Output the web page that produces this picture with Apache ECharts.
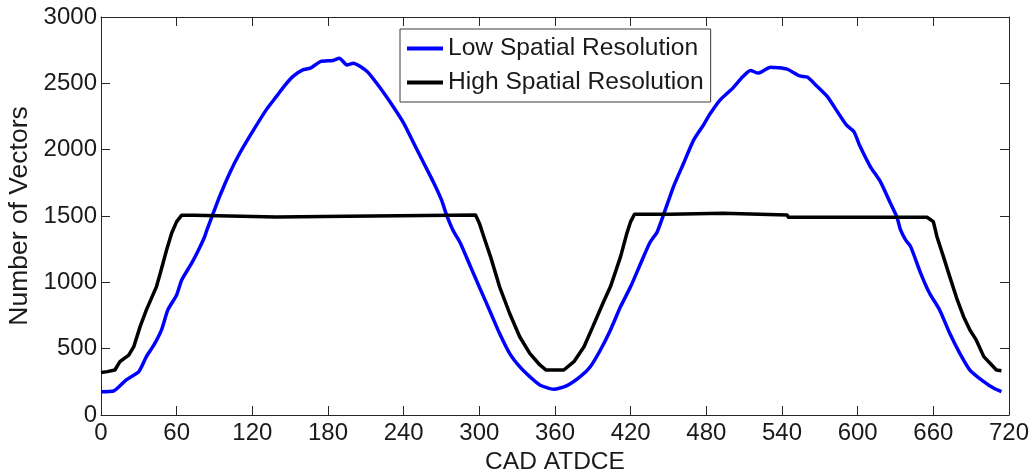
<!DOCTYPE html>
<html>
<head>
<meta charset="utf-8">
<script src="https://cdn.jsdelivr.net/npm/echarts@6/dist/echarts.min.js"></script>
<style>
  html, body { margin: 0; padding: 0; background: #fff; }
  #chart { width: 1034px; height: 475px; }
</style>
</head>
<body>
<div id="chart"></div>
<script>
// Crank angle (CAD ATDCE) and vector counts for each resolution
const lowX = [0, 10, 20, 30, 36, 42, 48, 53, 60, 64, 72, 78, 82, 84, 89, 94, 102, 110, 121, 131, 139, 145, 152, 160, 166, 174, 184, 189, 195, 200, 211, 221, 232, 240, 248, 256, 264, 270, 274, 279, 285, 293, 301, 308, 316, 324, 332, 340, 348, 359, 369, 380, 388, 396, 404, 412, 420, 428, 435, 441, 446, 454, 462, 470, 478, 483, 491, 501, 509, 515, 521, 531, 544, 554, 560, 568, 576, 583, 591, 597, 602, 610, 618, 626, 631, 634, 638, 642, 650, 657, 665, 673, 681, 689, 700, 708, 714];
const lowY = [176, 181, 264, 327, 440, 528, 641, 792, 905, 1018, 1146, 1257, 1340, 1395, 1521, 1646, 1823, 1973, 2149, 2300, 2400, 2476, 2551, 2602, 2614, 2664, 2672, 2690, 2639, 2652, 2589, 2470, 2320, 2200, 2049, 1898, 1747, 1621, 1508, 1395, 1295, 1118, 943, 792, 616, 465, 364, 289, 226, 194, 219, 289, 364, 490, 641, 817, 968, 1144, 1295, 1380, 1508, 1722, 1898, 2074, 2190, 2270, 2375, 2464, 2551, 2597, 2577, 2622, 2607, 2556, 2547, 2476, 2400, 2300, 2187, 2136, 2023, 1873, 1759, 1596, 1495, 1395, 1320, 1269, 1068, 918, 792, 616, 465, 339, 251, 201, 176];

const highX = [0, 5, 11, 15, 22, 26, 31, 36, 44, 47, 52, 56, 60, 64, 74, 75, 139, 140, 195, 196, 297, 300, 304, 309, 316, 324, 332, 340, 348, 353, 367, 375, 383, 390, 398, 404, 412, 417, 420, 423, 451, 452, 493, 494, 544, 545, 655, 660, 663, 668, 673, 679, 684, 689, 694, 700, 705, 710, 714];
const highY = [320, 327, 339, 402, 452, 515, 666, 792, 968, 1068, 1244, 1370, 1458, 1506, 1506, 1493, 1493, 1498, 1498, 1508, 1508, 1446, 1330, 1190, 968, 767, 590, 465, 377, 339, 339, 402, 515, 666, 842, 968, 1194, 1370, 1458, 1513, 1513, 1520, 1520, 1508, 1508, 1491, 1491, 1458, 1340, 1194, 1043, 867, 741, 641, 566, 440, 390, 339, 334];

const xTicks = { min: 0, max: 720, step: 60 };
const yTicks = { min: 0, max: 3000, step: 500 };

const seriesNames = ['Low Spatial Resolution', 'High Spatial Resolution'];

const pairs = (xs, ys) => xs.map((x, i) => [x, ys[i]]);

const FONT = '"Liberation Sans", Arial, sans-serif';
const AXIS_COLOR = '#262626';
const TEXT_COLOR = '#1a1a1a';

const chart = echarts.init(document.getElementById('chart'), null, { renderer: 'canvas' });

const boxAxis = (extra) => Object.assign({
  type: 'value',
  axisLine: { show: true, onZero: false, lineStyle: { color: AXIS_COLOR, width: 1 } },
  axisTick: { show: true, inside: true, length: 9, lineStyle: { color: AXIS_COLOR, width: 1 } },
  splitLine: { show: false }
}, extra);

chart.setOption({
  animation: false,
  backgroundColor: '#ffffff',
  grid: { left: 101, right: 25, top: 17, bottom: 60, containLabel: false, outerBoundsMode: 'none' },
  legend: {
    orient: 'vertical',
    left: 400,
    top: 29,
    itemWidth: 36,
    itemHeight: 4,
    itemGap: 9,
    padding: [7, 7, 7, 7],
    backgroundColor: '#ffffff',
    borderColor: '#3a3a3a',
    borderWidth: 1,
    textStyle: { fontFamily: FONT, fontSize: 24.6, color: TEXT_COLOR },
    data: [
      { name: seriesNames[0], icon: 'rect' },
      { name: seriesNames[1], icon: 'rect' }
    ]
  },
  xAxis: [
    boxAxis({
      position: 'bottom',
      min: xTicks.min, max: xTicks.max, interval: xTicks.step,
      name: 'CAD ATDCE',
      nameLocation: 'middle',
      nameGap: 34,
      nameTextStyle: { fontFamily: FONT, fontSize: 24.5, color: TEXT_COLOR, verticalAlign: 'top' },
      axisLabel: { show: true, margin: 6, fontFamily: FONT, fontSize: 24, color: TEXT_COLOR, verticalAlign: 'top' }
    }),
    boxAxis({
      position: 'top',
      min: xTicks.min, max: xTicks.max, interval: xTicks.step,
      axisLabel: { show: false }
    })
  ],
  yAxis: [
    boxAxis({
      position: 'left',
      min: yTicks.min, max: yTicks.max, interval: yTicks.step,
      name: 'Number of Vectors',
      nameLocation: 'middle',
      nameGap: 66,
      nameRotate: 90,
      nameTextStyle: { fontFamily: FONT, fontSize: 26.5, color: TEXT_COLOR },
      axisLabel: {
        show: true, margin: 4, fontFamily: FONT, fontSize: 24, color: TEXT_COLOR,
        formatter: (v) => String(v)
      }
    }),
    boxAxis({
      position: 'right',
      min: yTicks.min, max: yTicks.max, interval: yTicks.step,
      axisLabel: { show: false }
    })
  ],
  series: [
    {
      name: seriesNames[0],
      type: 'line',
      xAxisIndex: 0, yAxisIndex: 0,
      data: pairs(lowX, lowY),
      showSymbol: false,
      smooth: 0.2,
      lineStyle: { color: '#0000ff', width: 3.5, join: 'round' },
      itemStyle: { color: '#0000ff' },
      z: 2
    },
    {
      name: seriesNames[1],
      type: 'line',
      xAxisIndex: 0, yAxisIndex: 0,
      data: pairs(highX, highY),
      showSymbol: false,
      smooth: false,
      lineStyle: { color: '#000000', width: 3.5, join: 'round' },
      itemStyle: { color: '#000000' },
      z: 3
    }
  ]
});
</script>
</body>
</html>
